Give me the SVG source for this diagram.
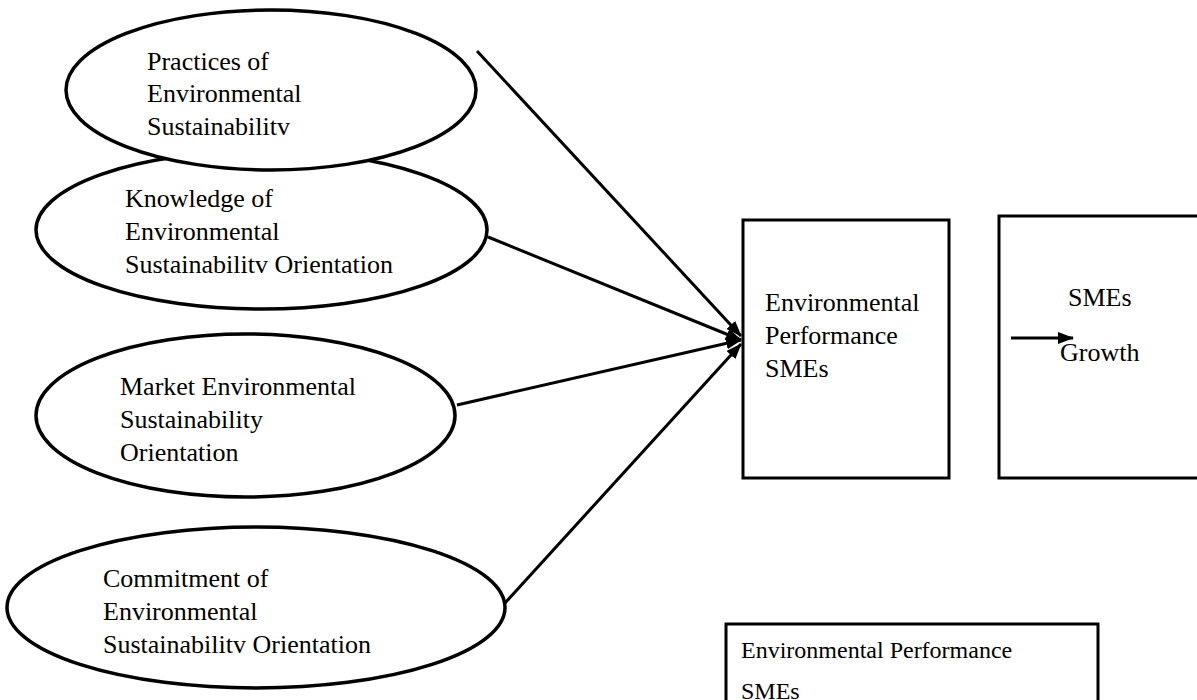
<svg xmlns="http://www.w3.org/2000/svg" width="1197" height="700" viewBox="0 0 1197 700">
  <defs>
    <style>
      .shape { fill: #ffffff; stroke: #000000; stroke-width: 3.5; }
      .box { fill: #ffffff; stroke: #000000; stroke-width: 3; }
      .label { font-family: "Liberation Serif", "Times New Roman", serif; font-size: 26px; fill: #000000; }
      .small { font-size: 24px; }
      .link { fill: none; stroke: #000000; stroke-width: 3; }
    </style>
    <marker id="head" viewBox="0 0 16 12" refX="15" refY="6" markerWidth="16" markerHeight="12" markerUnits="userSpaceOnUse" orient="auto">
      <path d="M0,0 L16,6 L0,12 Z" fill="#000000"/>
    </marker>
  </defs>
  <rect width="1197" height="700" fill="#ffffff"/>

  <!-- driver constructs -->
  <g id="knowledge">
    <ellipse class="shape" cx="261.5" cy="230" rx="225.5" ry="79"/>
    <text class="label" x="125" y="207">Knowledge of</text>
    <text class="label" x="125" y="240">Environmental</text>
    <text class="label" x="125" y="273">Sustainabilitv Orientation</text>
  </g>
  <g id="practices">
    <ellipse class="shape" cx="271" cy="90" rx="205" ry="80"/>
    <text class="label" x="147" y="70">Practices of</text>
    <text class="label" x="147" y="102">Environmental</text>
    <text class="label" x="147" y="135">Sustainabilitv</text>
  </g>
  <g id="market">
    <ellipse class="shape" cx="245.5" cy="415.5" rx="209.5" ry="81.5"/>
    <text class="label" x="120" y="395">Market Environmental</text>
    <text class="label" x="120" y="428">Sustainability</text>
    <text class="label" x="120" y="461">Orientation</text>
  </g>
  <g id="commitment">
    <ellipse class="shape" cx="256" cy="607.5" rx="249" ry="80.5"/>
    <text class="label" x="103" y="587">Commitment of</text>
    <text class="label" x="103" y="620">Environmental</text>
    <text class="label" x="103" y="653">Sustainabilitv Orientation</text>
  </g>

  <!-- outcome boxes -->
  <g id="performance">
    <rect class="box" x="743" y="220" width="206" height="258"/>
    <text class="label" x="765" y="311">Environmental</text>
    <text class="label" x="765" y="344">Performance</text>
    <text class="label" x="765" y="377">SMEs</text>
  </g>
  <g id="growth">
    <rect class="box" x="999" y="216" width="220" height="262"/>
    <text class="label" x="1068" y="306">SMEs</text>
    <text class="label" x="1060" y="361">Growth</text>
  </g>
  <g id="performance-note">
    <rect class="box" x="726" y="624" width="372" height="100"/>
    <text class="label small" x="741" y="658">Environmental Performance</text>
    <text class="label small" x="741" y="699">SMEs</text>
  </g>

  <!-- connectors -->
  <g id="connectors">
    <line class="link" x1="477" y1="51" x2="741" y2="336" marker-end="url(#head)"/>
    <line class="link" x1="488" y1="237" x2="741" y2="340" marker-end="url(#head)"/>
    <line class="link" x1="457" y1="405" x2="741" y2="340" marker-end="url(#head)"/>
    <line class="link" x1="505" y1="603" x2="741" y2="344" marker-end="url(#head)"/>
    <line class="link" x1="1011" y1="338" x2="1073" y2="338" marker-end="url(#head)"/>
  </g>
</svg>
